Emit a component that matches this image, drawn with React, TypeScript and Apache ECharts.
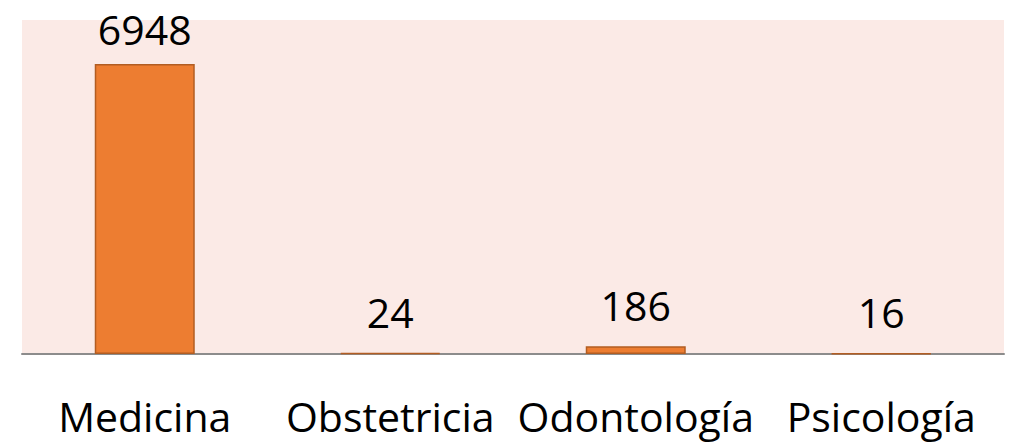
import React, { useEffect, useRef } from "react";
import * as echarts from "echarts";

const categories = ["Medicina", "Obstetricia", "Odontología", "Psicología"];
const values = [6948, 24, 186, 16];
const yMax = 8000;

export default function App() {
  const ref = useRef<HTMLDivElement>(null);
  useEffect(() => {
    if (!ref.current) return;
    const chart = echarts.init(ref.current, null, { renderer: "svg" });
    const maxVal = Math.max(...values);
    chart.setOption({
      animation: false,
      textStyle: { fontFamily: "Open Sans" },
      grid: {
        left: 22,
        right: 11,
        top: 20,
        bottom: 88,
        show: true,
        backgroundColor: "#FBEAE6",
        borderWidth: 0,
      },
      xAxis: {
        type: "category",
        data: categories,
        axisLine: { show: true, lineStyle: { color: "#8C8C8C", width: 2 } },
        axisTick: { show: false },
        axisLabel: {
          color: "#000",
          fontSize: 41,
          fontFamily: "Open Sans",
          margin: 41,
          interval: 0,
        },
      },
      yAxis: {
        type: "value",
        min: 0,
        max: yMax,
        show: false,
        splitLine: { show: false },
      },
      series: [
        {
          type: "bar",
          data: values.map((v) =>
            v === maxVal ? { value: v, label: { distance: 20 } } : v
          ),
          barWidth: 100,
          itemStyle: {
            color: "#ED7D31",
            borderColor: "#B25D22",
            borderWidth: 1.5,
          },
          label: {
            show: true,
            position: "top",
            distance: 26,
            lineHeight: 30,
            color: "#000",
            fontSize: 41,
            fontFamily: "Open Sans",
          },
        },
      ],
    });
    return () => chart.dispose();
  }, []);
  return (
    <div
      ref={ref}
      style={{ position: "absolute", left: 0, top: 0, width: 1015, height: 442 }}
    />
  );
}
